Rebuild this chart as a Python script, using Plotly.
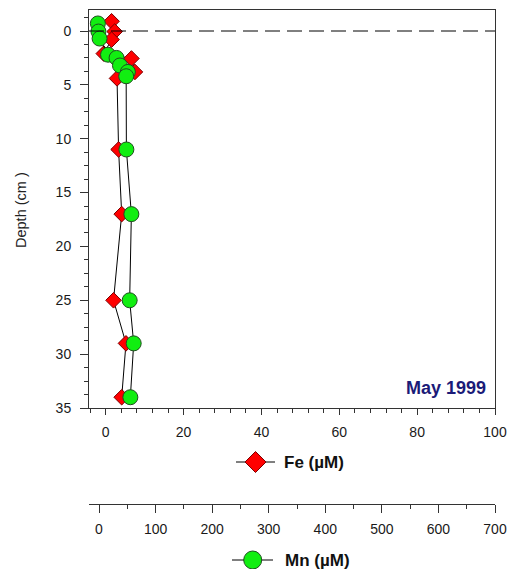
import plotly.graph_objects as go

# ---- data ----
fe_depth = [-0.9, 0.05, 0.8, 2.1, 2.55, 3.8, 4.4, 11, 17, 25, 29, 34]
fe_conc = [1.5, 2.3, 1.5, -0.5, 6.6, 7.5, 2.9, 3.3, 4.1, 2.0, 5.2, 4.1]

mn_depth = [-0.7, 0.05, 0.7, 2.2, 2.5, 3.2, 3.8, 4.2, 11, 17, 25, 29, 34]
mn_conc = [-2, -1, 1, 16, 31, 37, 51, 48, 48.4, 57.2, 54.2, 61.3, 55.4]

fe_ticks = [0, 20, 40, 60, 80, 100]
mn_ticks = [0, 100, 200, 300, 400, 500, 600, 700]
depth_ticks = [0, 5, 10, 15, 20, 25, 30, 35]

FONT = "Arial, Liberation Sans, sans-serif"
W, H = 510, 569
L, R, T, B = 89, 15, 10, 65
PW, PH = W - L - R, H - T - B


def px(x):
    return (x - L) / PW


def py(y):
    return (H - B - y) / PH


fig = go.Figure()

fig.add_trace(go.Scatter(
    x=fe_conc, y=fe_depth, mode="lines+markers", name="Fe",
    line=dict(color="black", width=1),
    marker=dict(symbol="diamond", size=12, color="#ff0000",
                line=dict(color="#7a0000", width=1)),
    xaxis="x", yaxis="y", showlegend=False,
))
fig.add_trace(go.Scatter(
    x=mn_conc, y=mn_depth, mode="lines+markers", name="Mn",
    line=dict(color="black", width=1),
    marker=dict(symbol="circle", size=15, color="#11ee11",
                line=dict(color="#1f4d1f", width=1)),
    xaxis="x2", yaxis="y", showlegend=False,
))

ydom0 = py(408)
tickfont = dict(family=FONT, size=14, color="#1a1a1a")

fig.update_layout(
    width=W, height=H,
    margin=dict(l=L, r=R, t=T, b=B, autoexpand=False),
    paper_bgcolor="white", plot_bgcolor="white",
    showlegend=False,
    xaxis=dict(
        range=[-4.3, 100], tickvals=fe_ticks, ticks="outside", ticklen=6,
        tickcolor="#333", showline=True, linecolor="#333", mirror=True,
        zeroline=False, showgrid=False, tickfont=tickfont, automargin=False,
        ticklabelstandoff=5, anchor="y",
        minor=dict(dtick=4, tick0=0, ticks="outside", ticklen=4, tickcolor="#333"),
    ),
    xaxis2=dict(
        range=[-17.7, 700], tickvals=mn_ticks, ticks="outside", ticklen=8,
        tickcolor="#333", showline=True, linecolor="#333",
        zeroline=False, showgrid=False, tickfont=tickfont, automargin=False,
        ticklabelstandoff=4,
        overlaying="x", anchor="free", position=0, side="bottom",
        minor=dict(dtick=50, tick0=0, ticks="outside", ticklen=4, tickcolor="#333"),
    ),
    yaxis=dict(
        domain=[ydom0, 1], range=[35, -1.95], tickvals=depth_ticks,
        ticks="outside", ticklen=8, tickcolor="#333", showline=True,
        linecolor="#333", mirror=True, zeroline=False, showgrid=False,
        tickfont=tickfont, automargin=False,
        ticklabelstandoff=6,
        minor=dict(dtick=1.25, tick0=0, ticks="outside", ticklen=4, tickcolor="#333"),
    ),
)

shapes = []
# dashed line at depth 0
shapes.append(dict(type="line", xref="x domain", yref="y", x0=0, x1=1, y0=0, y1=0,
                   line=dict(color="black", width=1, dash="15px,7px")))

# Fe legend symbol
fy = py(462)
shapes.append(dict(type="line", xref="paper", yref="paper",
                   x0=px(236), x1=px(275), y0=fy, y1=fy,
                   line=dict(color="black", width=1)))
cx, cy, hw, hh = 255.5, 462, 10.5, 10.5
path = "M {} {} L {} {} L {} {} L {} {} Z".format(
    px(cx - hw), py(cy), px(cx), py(cy - hh), px(cx + hw), py(cy), px(cx), py(cy + hh))
shapes.append(dict(type="path", xref="paper", yref="paper", path=path,
                   fillcolor="#ff0000", line=dict(color="#7a0000", width=1)))

# Mn legend symbol
my = py(560)
shapes.append(dict(type="line", xref="paper", yref="paper",
                   x0=px(232), x1=px(273), y0=my, y1=my,
                   line=dict(color="black", width=1)))
r = 9
shapes.append(dict(type="circle", xref="paper", yref="paper",
                   x0=px(252.7 - r), x1=px(252.7 + r), y0=py(560 + r), y1=py(560 - r),
                   fillcolor="#11ee11", line=dict(color="#1f4d1f", width=1)))
fig.update_layout(shapes=shapes)

fig.add_annotation(text="<b>Fe (µM)</b>", xref="paper", yref="paper",
                   x=px(282), y=py(462), xanchor="left", yanchor="middle",
                   showarrow=False, font=dict(family=FONT, size=17, color="#111"))
fig.add_annotation(text="<b>Mn (µM)</b>", xref="paper", yref="paper",
                   x=px(283), y=py(560), xanchor="left", yanchor="middle",
                   showarrow=False, font=dict(family=FONT, size=17, color="#111"))
fig.add_annotation(text="<b>May 1999</b>", xref="paper", yref="paper",
                   x=px(488), y=py(388), xanchor="right", yanchor="middle",
                   showarrow=False, font=dict(family=FONT, size=18, color="#1b1b78"))
fig.add_annotation(text="Depth (cm )", xref="paper", yref="paper",
                   x=px(21), y=py(210), xanchor="center", yanchor="middle",
                   textangle=-90, showarrow=False,
                   font=dict(family=FONT, size=14.5, color="#222"))

fig.write_html("out.html")
